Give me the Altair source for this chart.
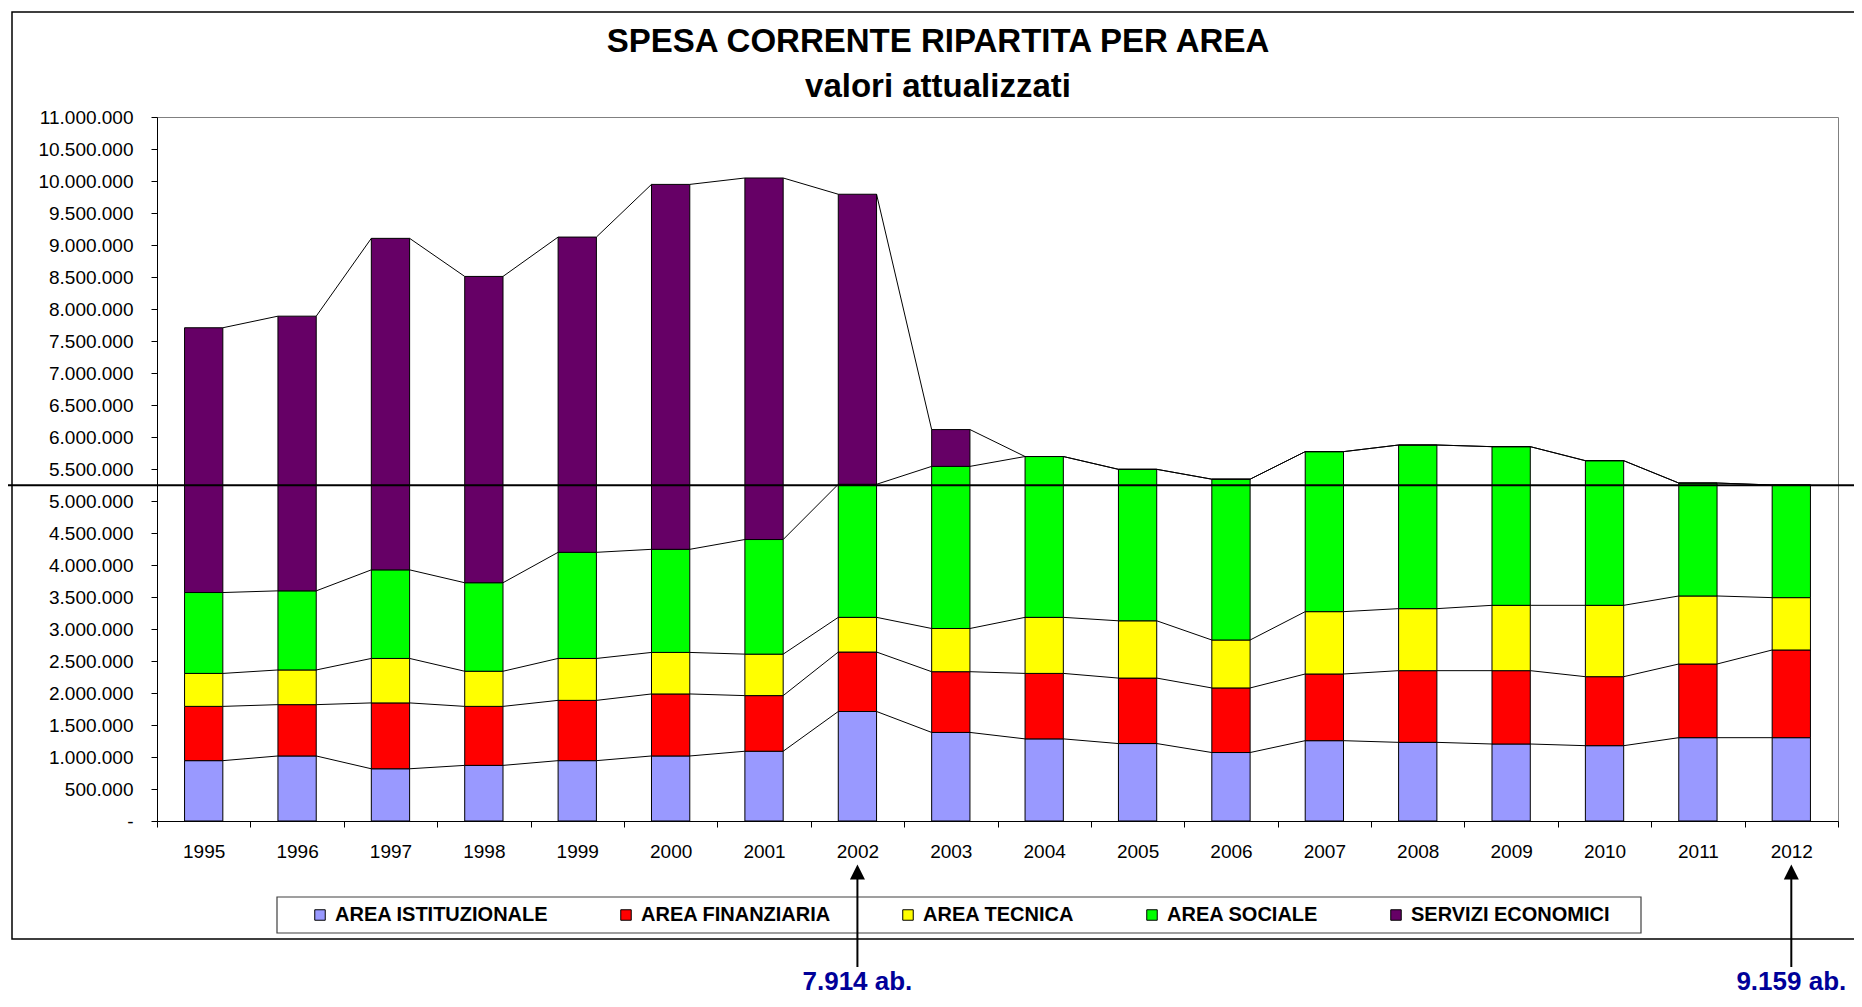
import altair as alt
import pandas as pd

# ---------------- data ----------------
YEARS = list(range(1995, 2013))
SERIES = ["AREA ISTITUZIONALE", "AREA FINANZIARIA", "AREA TECNICA", "AREA SOCIALE", "SERVIZI ECONOMICI"]
COLORS = ["#9999FF", "#FF0000", "#FFFF00", "#00FF00", "#660066"]

ISTITUZIONALE = [943000, 1016000, 816000, 869000, 943000, 1016000, 1090000, 1711000, 1384000,
                 1283000, 1210000, 1070000, 1255000, 1229000, 1203000, 1177000, 1302000, 1302000]
FINANZIARIA = [848000, 802000, 1029000, 922000, 942000, 969000, 869000, 929000, 949000,
               1023000, 1023000, 1009000, 1042000, 1120000, 1146000, 1078000, 1151000, 1370000]
TECNICA = [515000, 542000, 695000, 549000, 655000, 649000, 648000, 542000, 675000,
           876000, 895000, 749000, 974000, 969000, 1021000, 1115000, 1063000, 818000]
SOCIALE = [1264000, 1236000, 1384000, 1383000, 1658000, 1611000, 1791000, 2079000, 2533000,
           2513000, 2367000, 2513000, 2500000, 2557000, 2479000, 2260000, 1765000, 1760000]
ECONOMICI = [4137000, 4292000, 5180000, 4786000, 4926000, 5702000, 5649000, 4532000, 575000,
             0, 0, 0, 0, 0, 0, 0, 0, 0]

Y_TICKS = list(range(0, 11000001, 500000))
REF_LINE = [5247000]
ARROW_YEARS = [2002, 2012]
ARROW_LABELS = ["7.914 ab.", "9.159 ab."]

TITLE = "SPESA CORRENTE RIPARTITA PER AREA"
SUBTITLE = "valori attualizzati"

# ---------------- layout constants ----------------
W, H = 1681, 704
PAD = {"left": 149, "top": 109, "right": 16, "bottom": 176}
HALF = 0.205          # half bar width in category units
FONT = "Liberation Sans"

# ---------------- tables ----------------
values = [ISTITUZIONALE, FINANZIARIA, TECNICA, SOCIALE, ECONOMICI]
rows = []
cum = [0] * len(YEARS)
tops = []
for name, vals in zip(SERIES, values):
    t = []
    for i, (yr, v) in enumerate(zip(YEARS, vals)):
        rows.append({"anno": yr, "x0": yr - HALF, "x1": yr + HALF, "area": name,
                     "y0": cum[i], "y1": cum[i] + v, "valore": v})
        cum[i] += v
        t.append(cum[i])
    tops.append(t)
bars_df = pd.DataFrame(rows)

lines = []
for name, t in zip(SERIES, tops):
    for i in range(len(YEARS) - 1):
        lines.append({"area": name, "xa": YEARS[i] + HALF, "xb": YEARS[i + 1] - HALF,
                      "ya": t[i], "yb": t[i + 1]})
lines_df = pd.DataFrame(lines)

ref_df = pd.DataFrame({"ref": REF_LINE})
arrow_df = pd.DataFrame({"anno": ARROW_YEARS, "label": ARROW_LABELS})
one_df = pd.DataFrame({"k": [0]})
title_df = pd.DataFrame({"t": [TITLE]})
subtitle_df = pd.DataFrame({"t": [SUBTITLE]})

xscale = alt.Scale(domain=[YEARS[0] - 0.5, YEARS[-1] + 0.5], nice=False, zero=False)
yscale = alt.Scale(domain=[0, 11000000], nice=False)

x_bounds = [y - 0.5 for y in YEARS] + [YEARS[-1] + 0.5]

x_axis = alt.Axis(values=x_bounds, title=None, grid=False,
                  labelExpr=f"datum.value < {YEARS[-1]} ? toString(floor(datum.value) + 1) : ''",
                  labelOffset=W / len(YEARS) / 2, labelFlush=False, labelOverlap=False,
                  labelBound=False, tickSize=6, labelPadding=15, labelFontSize=19,
                  labelColor="black", domainColor="black", tickColor="black", labelFont=FONT)
nb = "\u00a0"
y_axis = alt.Axis(values=Y_TICKS, title=None, grid=False,
                  labelExpr=f"datum.value == 0 ? '-{nb*4}' : replace(format(datum.value, ','), regexp(',', 'g'), '.')",
                  tickSize=6, labelPadding=18, labelFontSize=19, labelColor="black",
                  domainColor="black", tickColor="black", labelFont=FONT, labelOverlap=False,
                  labelBound=False, labelFlush=False)


def X(field):
    return alt.X(field, scale=xscale, axis=x_axis)


def Y(field):
    return alt.Y(field, scale=yscale, axis=y_axis)


frame = alt.Chart(one_df).mark_rect(fillOpacity=0, stroke="black", strokeWidth=1.5).encode(
    x=alt.value(-145), x2=alt.value(W + PAD["right"] + 10), y=alt.value(-105), y2=alt.value(822))

legend_box = alt.Chart(one_df).mark_rect(fill="white", stroke="#404040", strokeWidth=1.2).encode(
    x=alt.value(120), x2=alt.value(1484), y=alt.value(780), y2=alt.value(816))

title_text = alt.Chart(title_df).mark_text(
    font=FONT, fontSize=33, fontWeight="bold", color="black", align="center",
    baseline="alphabetic").encode(x=alt.value(781), y=alt.value(-65), text="t:N")

subtitle_text = alt.Chart(subtitle_df).mark_text(
    font=FONT, fontSize=33, fontWeight="bold", color="black", align="center",
    baseline="alphabetic").encode(x=alt.value(781), y=alt.value(-20), text="t:N")

bars = alt.Chart(bars_df).mark_bar(stroke="black", strokeWidth=1).encode(
    x=X("x0:Q"),
    x2="x1:Q",
    y=Y("y0:Q"),
    y2="y1:Q",
    color=alt.Color("area:N", scale=alt.Scale(domain=SERIES, range=COLORS),
                    legend=alt.Legend(title=None, orient="none", direction="horizontal",
                                      columns=5, legendX=153, legendY=788,
                                      symbolType="square", symbolSize=110,
                                      symbolStrokeColor="black", symbolStrokeWidth=1,
                                      labelFont=FONT, labelFontSize=20, labelFontWeight="bold",
                                      labelColor="black", labelLimit=400, labelOffset=5,
                                      columnPadding=67, padding=0)),
    order=alt.Order("y0:Q"),
)

series_lines = alt.Chart(lines_df).mark_rule(color="black", strokeWidth=1).encode(
    x=X("xa:Q"), x2="xb:Q", y=Y("ya:Q"), y2="yb:Q")

hline = alt.Chart(ref_df).mark_rule(color="black", strokeWidth=2).encode(
    y=Y("ref:Q"), x=alt.value(-PAD["left"]), x2=alt.value(W + PAD["right"]))

arrow_shaft = alt.Chart(arrow_df).mark_rule(color="black", strokeWidth=2).encode(
    x=X("anno:Q"), y=alt.value(760), y2=alt.value(850))

arrow_head = alt.Chart(arrow_df).mark_point(
    shape="M0,-1L1,1L-1,1Z", size=225, filled=True, color="black", opacity=1).encode(
    x=X("anno:Q"), y=alt.value(755))

arrow_text = alt.Chart(arrow_df).mark_text(
    font=FONT, fontSize=26, fontWeight="bold", color="#000099", baseline="alphabetic",
    align="center").encode(x=X("anno:Q"), y=alt.value(873), text="label:N")

chart = alt.layer(frame, legend_box, title_text, subtitle_text, bars, series_lines, hline,
                  arrow_shaft, arrow_head, arrow_text).properties(
    width=W, height=H,
    padding=PAD,
    autosize=alt.AutoSizeParams(type="none"),
).configure(font=FONT).configure_view(stroke="#808080", strokeWidth=1)

chart.save("out.html", embed_options={"renderer": "svg", "actions": False})
